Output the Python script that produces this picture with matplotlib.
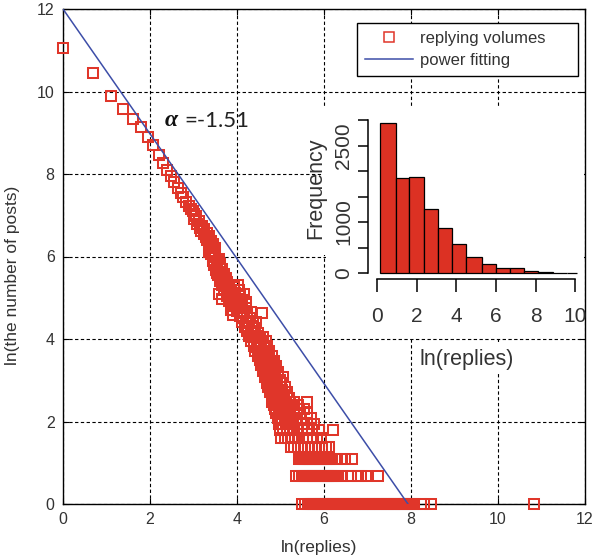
import numpy as np
import matplotlib
matplotlib.use("Agg")
import matplotlib.pyplot as plt
from matplotlib.patches import Rectangle
from matplotlib.lines import Line2D

plt.rcParams['font.family'] = ['Liberation Sans', 'DejaVu Sans']

# ---------------- data ----------------
# upper sparse track of the scatter (ln(replies), ln(number of posts))
track_x = [0.00, 0.69, 1.10, 1.39, 1.61, 1.79, 1.95, 2.08, 2.20, 2.30, 2.40, 2.48,
           2.56, 2.64, 2.71, 2.77, 2.83, 2.89, 2.94, 3.00]
track_y = [11.05, 10.44, 9.89, 9.58, 9.33, 9.13, 8.90, 8.70, 8.46, 8.26, 8.09, 7.95,
           7.80, 7.67, 7.54, 7.44, 7.33, 7.23, 7.14, 7.03]

# dense middle cloud
cloud_x = [2.98, 3.02, 3.06, 3.08, 3.12, 3.15, 3.17, 3.20, 3.23, 3.25, 3.28, 3.30, 3.32, 3.35, 3.36, 3.40, 3.42, 3.45, 3.47, 3.50,
           3.40, 3.45, 3.50, 3.53, 3.44, 3.58, 3.48, 3.55, 3.62, 3.52, 3.60, 3.66, 3.57, 3.64, 3.70, 3.74,
           3.62, 3.70, 3.78, 3.66, 3.74, 3.82, 3.92, 4.02, 3.70, 3.78, 3.86, 3.95, 4.05, 3.76, 3.84, 3.92, 4.00, 4.08, 3.82, 3.90, 3.98, 4.06, 4.12,
           3.96, 4.04, 4.12, 4.20, 4.00, 4.08, 4.16, 4.24, 4.32, 4.57, 4.06, 4.14, 4.22, 4.30, 4.12, 4.20, 4.28, 4.36, 4.44, 4.18, 4.26, 4.34, 4.42, 4.24, 4.32, 4.40, 4.48,
           4.28, 4.36, 4.44, 4.52, 4.60, 4.32, 4.40, 4.48, 4.56, 4.66, 4.38, 4.46, 4.54, 4.62, 4.70, 4.42, 4.50, 4.58, 4.66, 4.74, 4.48, 4.56, 4.64, 4.72, 4.80, 4.52, 4.60, 4.68, 4.76, 4.84,
           4.56, 4.64, 4.72, 4.80, 4.90, 4.60, 4.68, 4.76, 4.84, 4.94, 4.64, 4.72, 4.80, 4.88, 4.98, 5.06, 4.68, 4.76, 4.84, 4.92, 5.00, 5.10, 4.72, 4.80, 4.88, 4.96, 5.04, 5.14, 4.76, 4.84, 4.92, 5.00, 5.08, 5.20, 5.60,
           3.58, 3.66, 3.86, 3.90, 4.16, 4.20, 3.36, 3.54]
cloud_y = [7.10, 6.92, 6.98, 6.80, 6.85, 6.70, 6.62, 6.75, 6.55, 6.66, 6.48, 6.58, 6.40, 6.50, 6.30, 6.38, 6.22, 6.30, 6.12, 6.20,
           6.05, 5.98, 6.02, 5.90, 5.88, 5.95, 5.80, 5.75, 5.82, 5.68, 5.62, 5.70, 5.55, 5.50, 5.58, 5.48,
           5.40, 5.42, 5.38, 5.30, 5.28, 5.32, 5.26, 5.30, 5.18, 5.15, 5.20, 5.12, 5.18, 5.05, 5.02, 5.06, 4.98, 5.04, 4.92, 4.88, 4.92, 4.86, 4.95,
           4.80, 4.76, 4.80, 4.74, 4.68, 4.64, 4.68, 4.62, 4.66, 4.63, 4.55, 4.52, 4.56, 4.50, 4.42, 4.40, 4.44, 4.38, 4.42, 4.30, 4.28, 4.32, 4.26, 4.20, 4.16, 4.20, 4.14,
           4.08, 4.04, 4.08, 4.02, 4.06, 3.96, 3.92, 3.96, 3.90, 3.94, 3.84, 3.80, 3.84, 3.78, 3.82, 3.72, 3.68, 3.72, 3.66, 3.70, 3.60, 3.56, 3.60, 3.54, 3.58, 3.48, 3.44, 3.48, 3.42, 3.46,
           3.36, 3.32, 3.36, 3.30, 3.34, 3.22, 3.18, 3.22, 3.16, 3.20, 3.09, 3.04, 3.09, 3.04, 3.00, 3.09, 2.94, 2.89, 2.94, 2.89, 2.94, 2.83, 2.83, 2.77, 2.77, 2.71, 2.77, 2.71, 2.71, 2.64, 2.64, 2.56, 2.64, 2.56, 2.48,
           5.10, 4.96, 4.70, 4.58, 5.10, 4.90, 6.10, 5.60]

# discrete low-count levels: y = ln(count) and the x positions on each level
lvl_y = [2.48, 2.40, 2.30, 2.20, 2.08, 1.95, 1.79, 1.61, 1.39]
lvl_x = [
    [4.80, 4.88, 4.96, 5.04, 5.12, 5.22, 5.32],
    [4.84, 4.92, 5.00, 5.08, 5.16, 5.26, 5.40],
    [4.88, 4.96, 5.04, 5.12, 5.20, 5.30, 5.42, 5.55],
    [4.90, 4.98, 5.06, 5.14, 5.22, 5.32, 5.44, 5.62],
    [4.94, 5.02, 5.10, 5.18, 5.26, 5.36, 5.48, 5.70],
    [4.96, 5.04, 5.12, 5.20, 5.28, 5.38, 5.50, 5.62, 5.78],
    [4.98, 5.06, 5.14, 5.22, 5.30, 5.40, 5.50, 5.60, 5.72, 5.88, 6.20],
    [5.02, 5.10, 5.18, 5.26, 5.34, 5.42, 5.52, 5.62, 5.74, 5.84, 5.94],
    [5.24, 5.32, 5.40, 5.48, 5.56, 5.64, 5.72, 5.80, 5.88, 5.96, 6.04, 6.12],
]
row3_x = [5.42, 5.46, 5.50, 5.54, 5.58, 5.62, 5.66, 5.70, 5.74, 5.78, 5.82, 5.86, 5.90, 5.94,
          5.98, 6.02, 6.06, 6.10, 6.14, 6.18, 6.30, 6.40, 6.48, 6.65]
row2_x = [5.36, 5.43, 5.50, 5.54, 5.58, 5.62, 5.66, 5.70, 5.74, 5.78, 5.82, 5.86, 5.90, 5.94,
          5.98, 6.02, 6.06, 6.10, 6.14, 6.18, 6.22, 6.26, 6.30, 6.42, 6.55, 6.62, 6.78, 6.86, 6.97, 7.24]
row1_x = [5.50, 5.56, 5.64, 5.68, 5.72, 5.76, 5.80, 5.84, 5.88, 5.92, 5.96, 6.00, 6.04, 6.08, 6.12,
          6.16, 6.20, 6.24, 6.28, 6.32, 6.36, 6.40, 6.44, 6.48, 6.52, 6.56, 6.60, 6.64, 6.68, 6.72,
          6.76, 6.80, 6.84, 6.88, 6.92, 6.96, 7.00, 7.04, 7.08, 7.12, 7.16, 7.20, 7.24, 7.28, 7.32,
          7.36, 7.40, 7.44, 7.48, 7.52, 7.56, 7.60, 7.64, 7.68, 7.72, 7.76, 7.80, 7.84, 7.88, 7.92,
          7.96, 8.00, 8.04, 8.08, 8.22, 8.30, 8.47, 10.83]
row3_y = 1.10
row2_y = 0.69
row1_y = 0.00

# power fitting line endpoints
fit_x = [0.0, 7.93]
fit_y = [12.0, 0.0]
alpha_text = "=-1.51"

# inset histogram
hist_edges = [0.14, 0.93, 1.62, 2.36, 3.05, 3.78, 4.49, 5.28, 5.99, 6.71, 7.42, 8.15, 8.88, 9.61, 10.08]
hist_counts = [2940, 1857, 1888, 1261, 876, 569, 320, 176, 92, 92, 39, 12, 8, 6]
hist_yticks = [0, 500, 1000, 1500, 2000, 2500, 3000]
hist_yticklabels = ['0', '', '1000', '', '', '2500', '']
hist_xticks = [0, 2, 4, 6, 8, 10]

main_ticks = [0, 2, 4, 6, 8, 10, 12]

# ---------------- style ----------------
RED = '#E0362A'
BLUE = '#3D4EA8'
TXT = '#333333'
W, H = 595, 560

fig = plt.figure(figsize=(W / 100, H / 100), dpi=100)

def fx(px):
    return px / W

def fy(py):
    return 1 - py / H

ax = fig.add_axes([fx(63), fy(504), fx(585) - fx(63), fy(9) - fy(504)])
ax.set_xlim(0, 12)
ax.set_ylim(0, 12)
ax.set_xticks(main_ticks)
ax.set_yticks(main_ticks)
ax.tick_params(direction='in', length=4, width=0.8, top=True, right=True,
               labelsize=11.5, labelcolor=TXT, pad=6)
for s in ax.spines.values():
    s.set_linewidth(1.0)
ax.grid(True, color='black', linestyle=(0, (3, 2.2)), linewidth=0.8)
ax.set_axisbelow(True)

mk = dict(linestyle='none', marker='s', markersize=6.9, markerfacecolor='none',
          markeredgecolor=RED, markeredgewidth=1.45, clip_on=False, zorder=3)
ax.plot(track_x, track_y, **mk)
ax.plot(cloud_x, cloud_y, **mk)
for yv, xs in zip(lvl_y, lvl_x):
    ax.plot(xs, [yv] * len(xs), **mk)
ax.plot(row3_x, [row3_y] * len(row3_x), **mk)
ax.plot(row2_x, [row2_y] * len(row2_x), **mk)
ax.plot(row1_x, [row1_y] * len(row1_x), **mk)
ax.plot(fit_x, fit_y, color=BLUE, linewidth=1.1, zorder=3.5)

ax.set_xlabel('ln(replies)', fontsize=12.5, color=TXT)
ax.set_ylabel('ln(the number of posts)', fontsize=12.5, color=TXT)
ax.xaxis.set_label_coords((319 - 63) / 522, (504 - 540) / 495)
ax.yaxis.set_label_coords((20 - 63) / 522, (504 - 275) / 495)

ax.text(2.345, 9.29, '\u03b1', fontsize=17, fontweight='bold', style='italic',
        family=['Liberation Serif', 'DejaVu Serif'], ha='left', va='center', color='#111111')
ax.text(2.80, 9.29, alpha_text, fontsize=16, family=['Lato', 'DejaVu Sans'],
        ha='left', va='center', color='#222222')

handles = [Line2D([], [], linestyle='none', marker='s', markersize=7, markerfacecolor='none',
                  markeredgecolor=RED, markeredgewidth=1.1),
           Line2D([], [], color=BLUE, linewidth=1.1)]
leg = ax.legend(handles, ['replying volumes', 'power fitting'],
                loc='upper left', mode='expand',
                bbox_to_anchor=(fx(357), fy(82), fx(578) - fx(357), fy(23) - fy(82)),
                bbox_transform=fig.transFigure, borderaxespad=0,
                fontsize=12, labelspacing=0.45, borderpad=0.45, handlelength=2.9,
                handletextpad=0.4, fancybox=False, framealpha=1, edgecolor='black')
leg.get_frame().set_linewidth(1.0)
leg.set_zorder(5)
for t in leg.get_texts():
    t.set_color(TXT)

# white cover of the pasted inset
ov = fig.add_axes([0, 0, 1, 1])
ov.set_axis_off()
ov.set_xlim(0, W)
ov.set_ylim(H, 0)
for (x0, y0, x1, y1) in [(322, 107, 584, 255), (326, 255, 584, 337), (420, 342, 584, 373)]:
    ov.add_patch(Rectangle((x0, y0), x1 - x0, y1 - y0, facecolor='white', edgecolor='none'))

# inset histogram
ix0, ix1 = 374, 580
iy_top, iy_bot = 117, 275
ins = fig.add_axes([fx(ix0), fy(iy_bot), fx(ix1) - fx(ix0), fy(iy_top) - fy(iy_bot)])
ins.set_facecolor('none')
ins.bar(hist_edges[:-1], hist_counts, width=np.diff(hist_edges), align='edge',
        color='#DC3123', edgecolor='black', linewidth=0.9)
ins.set_xlim(-0.167, 10.25)
ins.set_ylim(-39, 3059)
for side in ('top', 'right'):
    ins.spines[side].set_visible(False)
ins.spines['left'].set_position(('outward', 4))
ins.spines['bottom'].set_position(('outward', 3))
ins.spines['left'].set_bounds(0, 3000)
ins.spines['bottom'].set_bounds(0, 10)
ins.spines['left'].set_linewidth(1.1)
ins.spines['bottom'].set_linewidth(1.1)
ins.set_xticks(hist_xticks)
ins.set_yticks(hist_yticks)
ins.set_yticklabels(hist_yticklabels, rotation=90, va='center')
ins.tick_params(axis='x', length=9, width=1.1, labelsize=15, pad=11, labelcolor=TXT)
ins.tick_params(axis='y', length=7, width=1.1, labelsize=15, pad=4, labelcolor=TXT)
ins.set_ylabel('Frequency', fontsize=15.5, color=TXT)
ins.set_xlabel('ln(replies)', fontsize=15.5, color=TXT)
ins.yaxis.set_label_coords((316 - ix0) / (ix1 - ix0), (iy_bot - 188) / (iy_bot - iy_top))
ins.xaxis.set_label_coords((467 - ix0) / (ix1 - ix0), (iy_bot - 360) / (iy_bot - iy_top))
ins.xaxis.label.set_va('center')
ins.yaxis.label.set_va('center')

fig.savefig('out.png', dpi=100)
